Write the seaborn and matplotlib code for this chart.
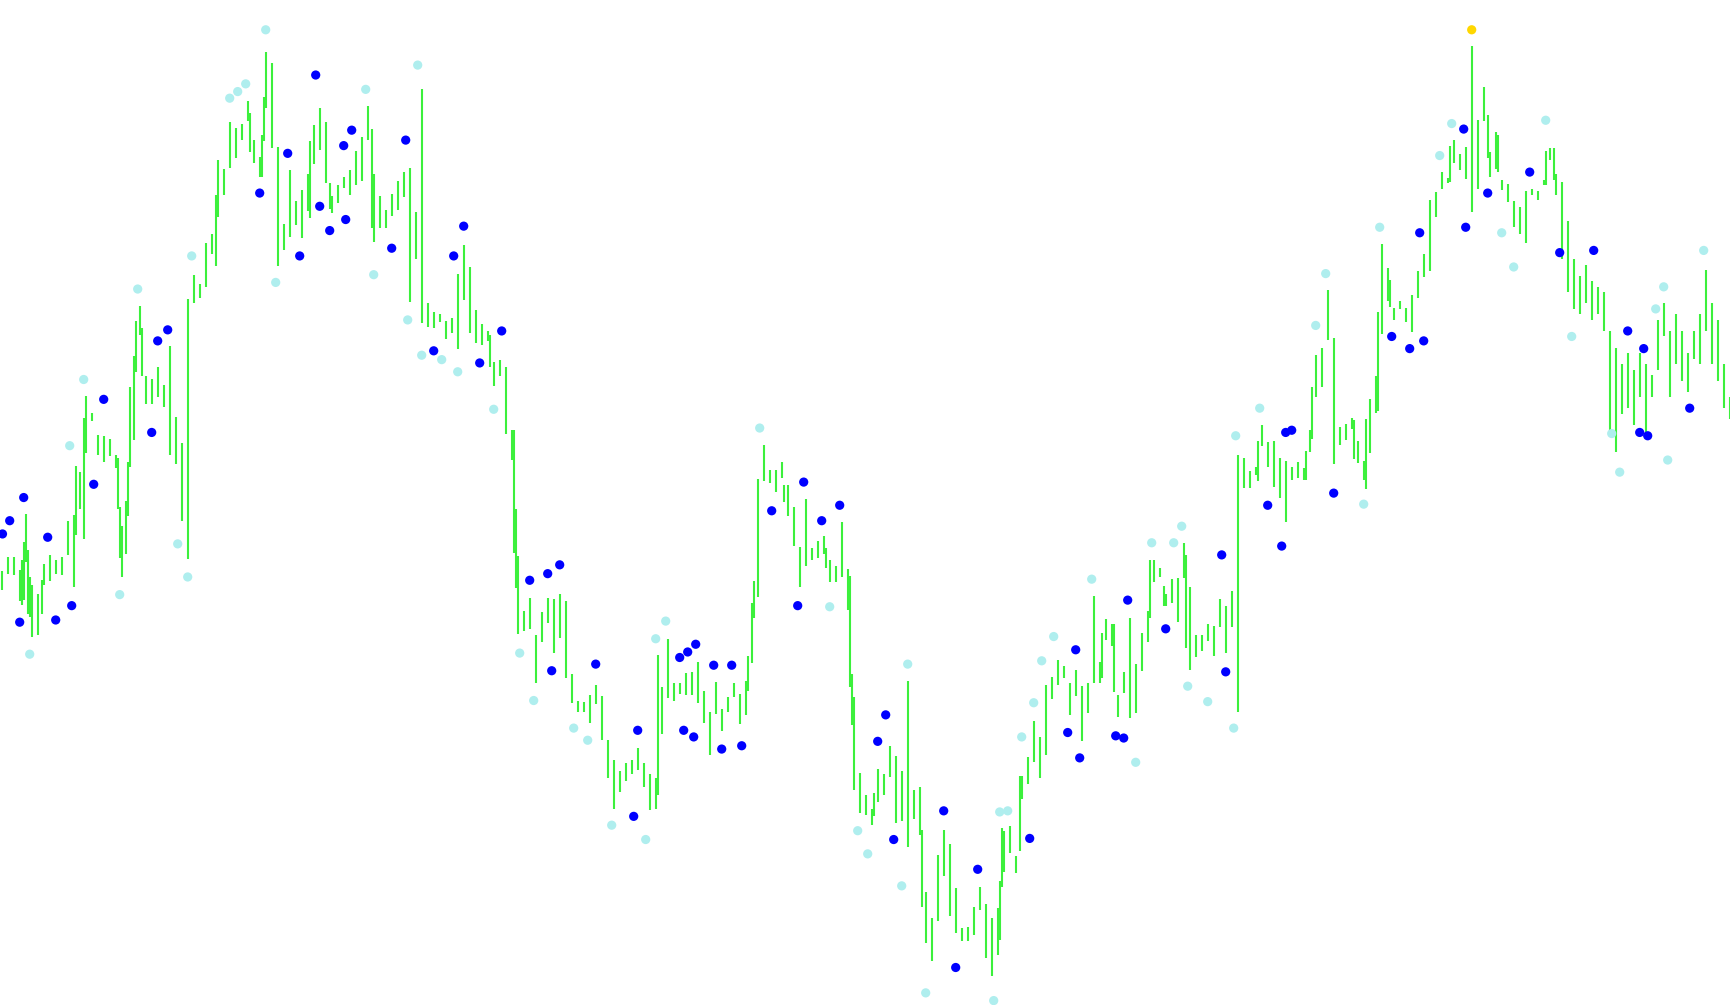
"""Price bars with swing-point markers (light = swing, blue = signal, gold = top)."""

import matplotlib
matplotlib.use("Agg")
import matplotlib.pyplot as plt
import numpy as np
import pandas as pd
import seaborn as sns

# every 3rd bar of the series (bar numbers 0, 3, 6, ... 864), price in points
bar_high = [
    393, 406, 406, 394, 445, 381, 373, 400, 408, 403, 406, 439, 444, 483, 552,
    537, 517, 516, 513, 499, 434, 492, 588, 634, 570, 567, 578, 562, 597,
    533, 509, 640, 662, 654, 691, 699, 766, 758, 800, 795, 799, 819, 784, 769,
    864, 854, 778, 708, 757, 729, 739, 753, 798, 813, 800, 733, 743, 751,
    757, 774, 787, 815, 753, 733, 721, 735, 747, 755, 759, 719, 830, 636, 628,
    626, 620, 623, 663, 689, 669, 630, 617, 611, 583, 585, 578, 521, 407,
    357, 369, 335, 356, 369, 368, 373, 366, 300, 276, 275, 281, 290, 280, 240,
    222, 212, 219, 222, 233, 219, 209, 206, 288, 332, 292, 292, 301, 302,
    311, 285, 266, 293, 268, 279, 292, 282, 294, 364, 477, 508, 485, 485, 492,
    471, 451, 415, 459, 414, 421, 425, 403, 398, 438, 395, 279, 210, 190,
    178, 214, 209, 235, 226, 212, 294, 195, 198, 102, 79, 136, 159, 146, 106,
    70, 71, 89, 107, 92, 79, 88, 158, 162, 135, 208, 225, 257, 243,
    290, 297, 313, 307, 292, 304, 289, 292, 371, 311, 350, 345, 281, 302, 351,
    309, 337, 357, 403, 396, 373, 386, 387, 419, 379, 335, 335, 345,
    344, 368, 362, 375, 499, 496, 484, 488, 526, 510, 511, 496, 493, 488, 492,
    487, 521, 589, 596, 648, 605, 524, 527, 532, 511, 493, 549, 570, 690,
    668, 632, 638, 632, 644, 665, 681, 730, 737, 755, 750, 784, 771, 778, 869,
    802, 832, 773, 791, 748, 744, 729, 723, 738, 740, 738, 748, 777, 753,
    746, 711, 676, 661, 671, 656, 651, 646, 611, 596, 581, 591, 576, 591, 581,
    571, 621, 636, 611, 626, 611, 591, 611, 626, 666, 636, 621, 581, 551,
]
bar_low = [
    376, 391, 390, 366, 402, 334, 335, 381, 384, 391, 390, 408, 379, 450, 500,
    529, 499, 492, 498, 487, 388, 443, 512, 607, 545, 545, 551, 542, 499,
    490, 439, 404, 636, 641, 651, 681, 714, 734, 759, 768, 784, 801, 763, 751,
    813, 777, 670, 684, 696, 707, 695, 720, 762, 775, 745, 718, 727, 741,
    734, 743, 747, 784, 692, 704, 704, 715, 721, 732, 637, 676, 618, 615, 614,
    619, 604, 609, 595, 639, 609, 600, 598, 602, 561, 570, 518, 494, 336,
    339, 341, 292, 329, 346, 319, 333, 296, 274, 266, 266, 256, 273, 240, 206,
    178, 193, 203, 209, 213, 198, 177, 178, 246, 278, 276, 282, 281, 281,
    274, 256, 227, 264, 248, 266, 279, 255, 263, 310, 370, 475, 473, 465, 478,
    443, 416, 379, 398, 403, 405, 409, 383, 383, 388, 358, 195, 174, 172,
    163, 184, 190, 207, 165, 167, 143, 169, 154, 56, 40, 76, 117, 81, 65,
    58, 58, 63, 86, 43, 26, 45, 121, 138, 120, 187, 200, 220, 206,
    227, 277, 290, 296, 263, 280, 239, 265, 292, 292, 331, 325, 261, 283, 260,
    265, 303, 329, 383, 388, 362, 364, 347, 387, 304, 315, 321, 330,
    316, 343, 319, 343, 266, 469, 469, 480, 507, 488, 470, 460, 438, 476, 478,
    476, 501, 551, 560, 603, 490, 508, 512, 522, 491, 476, 500, 537, 608,
    638, 621, 631, 619, 610, 641, 660, 665, 714, 740, 745, 763, 757, 749, 719,
    740, 801, 751, 758, 739, 728, 705, 699, 691, 734, 730, 743, 766, 734,
    676, 646, 631, 626, 636, 621, 626, 611, 516, 501, 536, 541, 526, 551, 516,
    551, 576, 606, 551, 581, 566, 556, 586, 581, 611, 581, 566, 541, 531,
]

# extra bars read where the price jumps between the sampled bars
gap_bar = [
    10, 11, 13, 14, 20, 37, 41, 58, 59, 62, 64, 67, 70, 107, 124, 130, 131,
    154, 164, 185, 244, 256, 257, 328, 373, 376, 391, 412, 424, 425, 436,
    460, 499, 500, 509, 550, 556, 574, 581, 592, 628, 652, 655, 676, 682,
    688, 694, 724, 743, 748, 772, 776,
]
gap_high = [
    403, 420, 412, 388, 385, 489, 532, 496, 451, 457, 560, 620, 614, 734, 809,
    789, 823, 783, 745, 794, 607, 521, 450, 317, 316, 384, 471, 414, 389, 300,
    192, 159, 112, 160, 208, 337, 345, 403, 380, 408, 511, 502, 560, 530, 531,
    628, 657, 779, 807, 789, 774, 777,
]
gap_low = [
    363, 367, 354, 352, 354, 426, 422, 450, 405, 409, 488, 574, 570, 670, 773,
    751, 783, 713, 722, 704, 578, 410, 378, 190, 285, 351, 456, 396, 288, 254,
    171, 89, 59, 107, 140, 296, 284, 351, 362, 324, 475, 476, 513, 495, 468,
    538, 633, 746, 768, 755, 743, 748,
]

# swing points: bar number and price
swing_bar = [
    14, 34, 41, 59, 68, 88, 93, 95, 114, 118, 122, 132, 137, 182, 186, 208,
    203, 210, 220, 228, 246, 259, 266, 286, 293, 305, 322, 327, 332, 379,
    414, 428, 433, 450, 453, 462, 496, 499, 503, 510, 516, 520, 526, 545,
    567, 575, 586, 590, 593, 603, 616, 617, 629, 657, 662, 681, 689, 719,
    725, 750, 756, 772, 785, 805, 809, 827, 831, 833, 851,
]
swing_price = [
    318, 507, 567, 372, 649, 418, 388, 679, 822, 828, 835, 884, 655, 830, 662,
    852, 621, 589, 585, 574, 540, 319, 276, 251, 240, 163, 150, 332, 348, 523,
    361, 158, 137, 108, 309, 11, 4, 175, 176, 243, 274, 312, 334, 386,
    220, 419, 419, 434, 289, 275, 251, 516, 541, 616, 663, 454, 705, 770,
    799, 700, 669, 802, 606, 518, 483, 631, 651, 494, 684,
]

# signal points
signal_bar = [
    0.4, 4, 11, 9, 23, 27, 35, 46, 51, 75, 78, 83, 129, 143, 149, 157, 159,
    164, 171, 172, 175, 195, 202, 216, 226, 231, 239, 250, 264, 273, 279,
    275, 297, 318, 316, 339, 343, 347, 341, 346, 356, 365, 360, 370, 385,
    398, 401, 410, 419, 438, 442, 446, 471, 477, 488, 514, 533, 537, 539,
    557, 561, 563, 582, 610, 612, 633, 640, 642, 645, 666, 695, 704, 711,
    709, 731, 732, 743, 764, 779, 796, 813, 821, 819, 823, 844,
]
signal_price = [
    427, 439, 460, 347, 424, 349, 362, 472, 549, 519, 602, 612, 736, 772, 679,
    843, 724, 702, 779, 712, 793, 686, 784, 593, 679, 706, 582, 611, 385, 391,
    399, 303, 309, 249, 171, 315, 320, 327, 249, 243, 308, 308, 232, 235, 448,
    362, 474, 439, 453, 239, 263, 150, 176, 34, 123, 151, 247, 322, 224,
    244, 242, 367, 341, 408, 302, 453, 416, 519, 521, 464, 606, 595, 602,
    700, 794, 705, 736, 755, 682, 684, 611, 595, 519, 516, 541,
]

# the single top marker
top_bar = [735]
top_price = [884]

BAR_COLOR = "#3cf03c"
DOT_COLORS = {"swing": "#afeeee", "signal": "#0000ff", "top": "#ffd700"}

sns.set_theme(style="white")

bars = pd.concat([
    pd.DataFrame({"bar": np.arange(len(bar_high)) * 3,
                  "high": bar_high, "low": bar_low}),
    pd.DataFrame({"bar": gap_bar, "high": gap_high, "low": gap_low}),
], ignore_index=True).sort_values("bar")

dots = pd.concat([
    pd.DataFrame({"bar": swing_bar, "price": swing_price, "kind": "swing"}),
    pd.DataFrame({"bar": signal_bar, "price": signal_price, "kind": "signal"}),
    pd.DataFrame({"bar": top_bar, "price": top_price, "kind": "top"}),
], ignore_index=True)

fig = plt.figure(figsize=(17.30, 10.05), dpi=100)
ax = fig.add_axes([0, 0, 1, 1])

ax.vlines(bars["bar"], bars["low"], bars["high"], color=BAR_COLOR,
          linewidth=1.5, zorder=1)
sns.scatterplot(data=dots, x="bar", y="price", hue="kind", palette=DOT_COLORS,
                s=44, linewidth=0, legend=False, ax=ax, zorder=3)

ax.set_xlim(-0.85, 864.15)
ax.set_ylim(0, 911)
ax.set_axis_off()

fig.savefig("out.png", dpi=100, facecolor="white")
plt.close(fig)
